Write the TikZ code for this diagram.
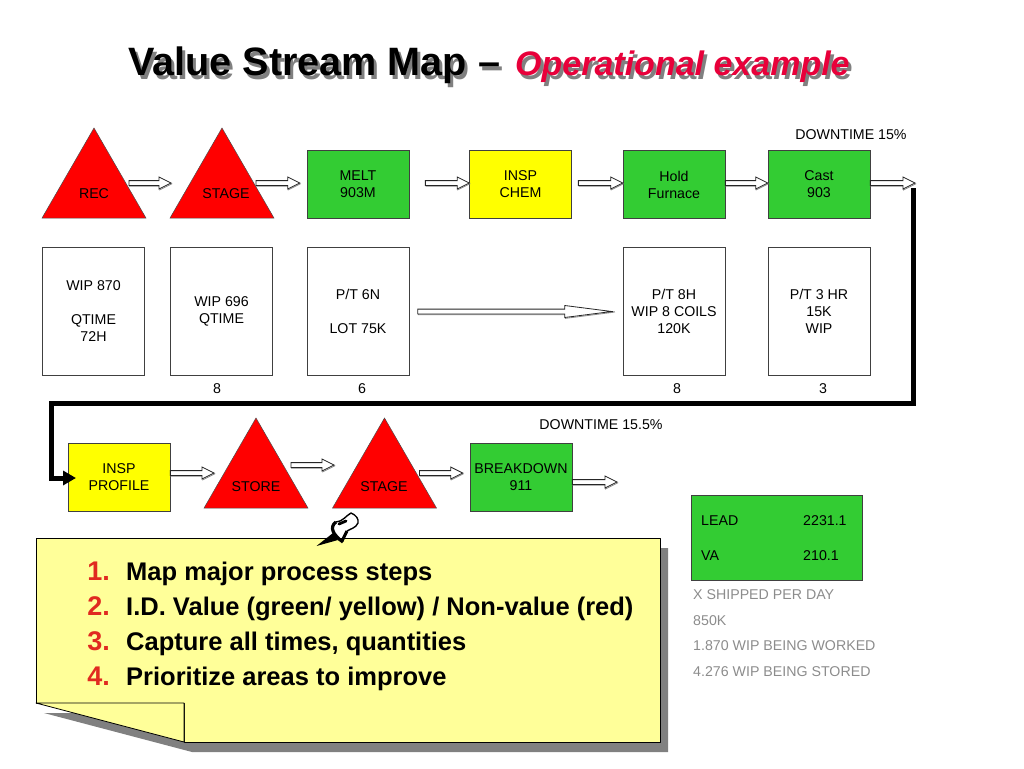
\documentclass[tikz,border=0pt]{standalone}
\usepackage{fontspec}
\setmainfont{Liberation Sans}
\usetikzlibrary{arrows.meta,shapes.geometric}
\definecolor{vsmgreen}{HTML}{33CC33}
\definecolor{vsmred}{HTML}{FF0000}
\definecolor{vsmyellow}{HTML}{FFFF00}
\definecolor{notefill}{HTML}{FFFF99}
\definecolor{titlered}{HTML}{E8003A}
\definecolor{numred}{HTML}{E02A20}
\tikzset{
	lbl/.style={font=\fontsize{14.2}{17}\selectfont, align=center, inner sep=0pt, text=black},
	proc/.style={lbl, draw=black!75, line width=0.7pt, minimum width=102pt, minimum height=68pt},
	tri/.style={regular polygon, regular polygon sides=3, draw=black!70, line width=0.5pt, fill=vsmred, inner sep=0pt, minimum size=120pt},
	databox/.style={lbl, draw=black!75, line width=0.6pt, fill=white, minimum width=102pt, minimum height=128pt},
	blockarrow/.style={draw=black!85, line width=0.8pt, fill=white, line join=miter,
		preaction={draw=black!45, line width=0.8pt, transform canvas={xshift=0.6pt, yshift=-0.9pt}},
		to path={([yshift=2.4pt]\tikztostart) -- ([xshift=-#1pt, yshift=2.4pt]\tikztotarget) -- ([xshift=-#1pt, yshift=6pt]\tikztotarget) -- (\tikztotarget) -- ([xshift=-#1pt, yshift=-6pt]\tikztotarget) -- ([xshift=-#1pt, yshift=-2.4pt]\tikztotarget) -- ([yshift=-2.4pt]\tikztostart) -- cycle}},
	blockarrow/.default=12,
	notetxt/.style={font=\bfseries\fontsize{25.5}{30}\selectfont, anchor=base west, inner sep=0pt},
	notenum/.style={font=\bfseries\fontsize{27}{30}\selectfont, text=numred, anchor=base east, inner sep=0pt},
	grey/.style={lbl, text=black!45, anchor=west},
	titletxt/.style={font=\bfseries\fontsize{39.6}{44}\selectfont, anchor=base west, inner sep=0pt},
	subtxt/.style={font=\bfseries\itshape\fontsize{34}{38}\selectfont, anchor=base west, inner sep=0pt},
}
\begin{document}
\begin{tikzpicture}[x=1pt, y=-1pt]
	\useasboundingbox (0, 0) rectangle (1024, 768);

	% Title
	\node[titletxt, text=black!50] (titleshadow) at (131, 79) {Value Stream Map --};
	\node[titletxt] (title) at (128, 75) {Value Stream Map --};
	\node[subtxt, text=black!50] (subshadow) at (518, 79) {Operational example};
	\node[subtxt, text=titlered] (sub) at (515, 75) {Operational example};

	% Top row
	\node[tri] (rec) at (94, 188) {};
	\node[lbl] (reclbl) at (94, 193.5) {REC};
	\node[tri] (stage) at (222, 188) {};
	\node[lbl] (stagelbl) at (226, 193.5) {STAGE};
	\node[proc, fill=vsmgreen] (melt) at (358, 184.5) {MELT\\903M};
	\node[proc, fill=vsmyellow] (chem) at (520.5, 184.5) {INSP\\CHEM};
	\node[proc, fill=vsmgreen] (hold) at (674, 184.5) {Hold\\Furnace};
	\node[proc, fill=vsmgreen] (cast) at (819, 184.5) {Cast\\903};
	\node[lbl] (down1) at (851, 134.7) {DOWNTIME 15\%};

	% Data boxes
	\node[databox] (wip1) at (93.5, 311.5) {WIP 870\\ \\QTIME\\72H};
	\node[databox] (wip2) at (221.5, 311.5) {WIP 696\\QTIME};
	\node[databox] (pt1) at (358, 311.5) {P/T 6N\\ \\LOT 75K};
	\node[databox] (pt2) at (674, 311.5) {P/T 8H\\WIP 8 COILS\\120K};
	\node[databox] (pt3) at (819, 311.5) {P/T 3 HR\\15K\\WIP};
	\node[lbl] (n1) at (217, 388.5) {8};
	\node[lbl] (n2) at (362, 388.5) {6};
	\node[lbl] (n3) at (677, 388.5) {8};
	\node[lbl] (n4) at (823, 388.5) {3};

	% Bottom row
	\node[proc, fill=vsmyellow] (prof) at (119, 477.5) {INSP\\PROFILE};
	\node[tri] (store) at (256, 478) {};
	\node[lbl] (storelbl) at (256, 486.5) {STORE};
	\node[tri] (stage2) at (384.5, 478) {};
	\node[lbl] (stage2lbl) at (384, 486.5) {STAGE};
	\node[proc, fill=vsmgreen] (brk) at (521, 477.5) {BREAKDOWN\\911};
	\node[lbl] (down2) at (601, 424.7) {DOWNTIME 15.5\%};

	% Summary
	\node[draw=black!75, line width=0.7pt, fill=vsmgreen, minimum width=171pt, minimum height=85pt, inner sep=0pt] (sum) at (776.5, 537.5) {};
	\node[lbl, anchor=west] (lead) at (701, 521) {LEAD};
	\node[lbl, anchor=west] (leadval) at (803, 521) {2231.1};
	\node[lbl, anchor=west] (va) at (701, 555.5) {VA};
	\node[lbl, anchor=west] (vaval) at (803, 555.5) {210.1};
	\node[grey] (g1) at (693, 594.7) {X SHIPPED PER DAY};
	\node[grey] (g2) at (693, 620.7) {850K};
	\node[grey] (g3) at (693, 646) {1.870 WIP BEING WORKED};
	\node[grey] (g4) at (693, 671.7) {4.276 WIP BEING STORED};

	% Free ends of the arrows
	\coordinate (castout) at (915, 183);
	\coordinate (brkout) at (617, 482);
	\coordinate (turn1) at (913, 403.5);
	\coordinate (turn2) at (51, 403.5);
	\coordinate (linestart) at (913, 188);
	\coordinate (linein) at (76, 478);

	% Arrows
	\draw[blockarrow] ([yshift=5pt]rec.east) to ([xshift=-16pt, yshift=5pt]stage.west);
	\draw[blockarrow] ([xshift=-1pt, yshift=5pt]stage.east) to ([xshift=-7pt, yshift=1.5pt]melt.west);
	\draw[blockarrow] ([xshift=16pt, yshift=1.5pt]melt.east) to ([yshift=1.5pt]chem.west);
	\draw[blockarrow] ([xshift=6.5pt, yshift=1.5pt]chem.east) to ([yshift=1.5pt]hold.west);
	\draw[blockarrow] ([yshift=1.5pt]hold.east) to ([yshift=1.5pt]cast.west);
	\draw[blockarrow] ([yshift=1.5pt]cast.east) to (castout);
	\draw[blockarrow=47] ([xshift=8.5pt]pt1.east) to ([xshift=-11pt]pt2.west);
	\draw[blockarrow] ([yshift=4.5pt]prof.east) to ([xshift=-7pt, yshift=5pt]store.west);
	\draw[blockarrow] ([yshift=13pt]store.east) to ([xshift=-15.5pt, yshift=13pt]stage2.west);
	\draw[blockarrow] ([yshift=5pt]stage2.east) to ([xshift=-7pt, yshift=4.5pt]brk.west);
	\draw[blockarrow] ([yshift=-4.5pt]brk.east) to (brkout);
	\draw[line width=5pt, -{Triangle[length=13pt, width=14pt]}] (linestart) -- (turn1) -- (turn2) -- (turn2 |- linein) -- (linein);

	% Note
	\fill[black!50] (44, 713) -- (192, 752) -- (668, 752) -- (668, 548) -- (600, 548) -- (600, 713) -- cycle;
	\draw[black, line width=0.8pt, fill=notefill, line join=round] (36, 703) -- (36, 538) -- (660, 538) -- (660, 742) -- (184, 742) -- (184, 703) -- cycle;
	\draw[black, line width=0.8pt, fill=notefill, line join=round] (36, 703) -- (184, 703) -- (184, 742) -- cycle;
	\node[notenum] (num1) at (110, 580.7) {1.};
	\node[notenum] (num2) at (110, 615.7) {2.};
	\node[notenum] (num3) at (110, 650.7) {3.};
	\node[notenum] (num4) at (110, 685.7) {4.};
	\node[notetxt] (item1) at (126, 580.7) {Map major process steps};
	\node[notetxt] (item2) at (126, 615.7) {I.D. Value (green/ yellow) / Non-value (red)};
	\node[notetxt] (item3) at (126, 650.7) {Capture all times, quantities};
	\node[notetxt] (item4) at (126, 685.7) {Prioritize areas to improve};

	% Pin
	\fill[black] (316.5, 546) -- (333, 533) -- (338, 540) -- cycle;
	\draw[line width=3.2pt, line join=round] (336, 522) .. controls (329, 527) and (333, 535) .. (343, 542);
	\draw[line width=1.4pt, line join=round] (336, 522) .. controls (342, 522) and (347, 515) .. (351, 513) .. controls (356, 515) and (359, 519) .. (358, 523) .. controls (356, 528) and (350, 529) .. (347, 531);
	\draw[line width=3pt] (347, 531) -- (342, 541);
	\draw[line width=2.8pt, line cap=round] (339, 524) -- (346, 521);
\end{tikzpicture}
\end{document}
